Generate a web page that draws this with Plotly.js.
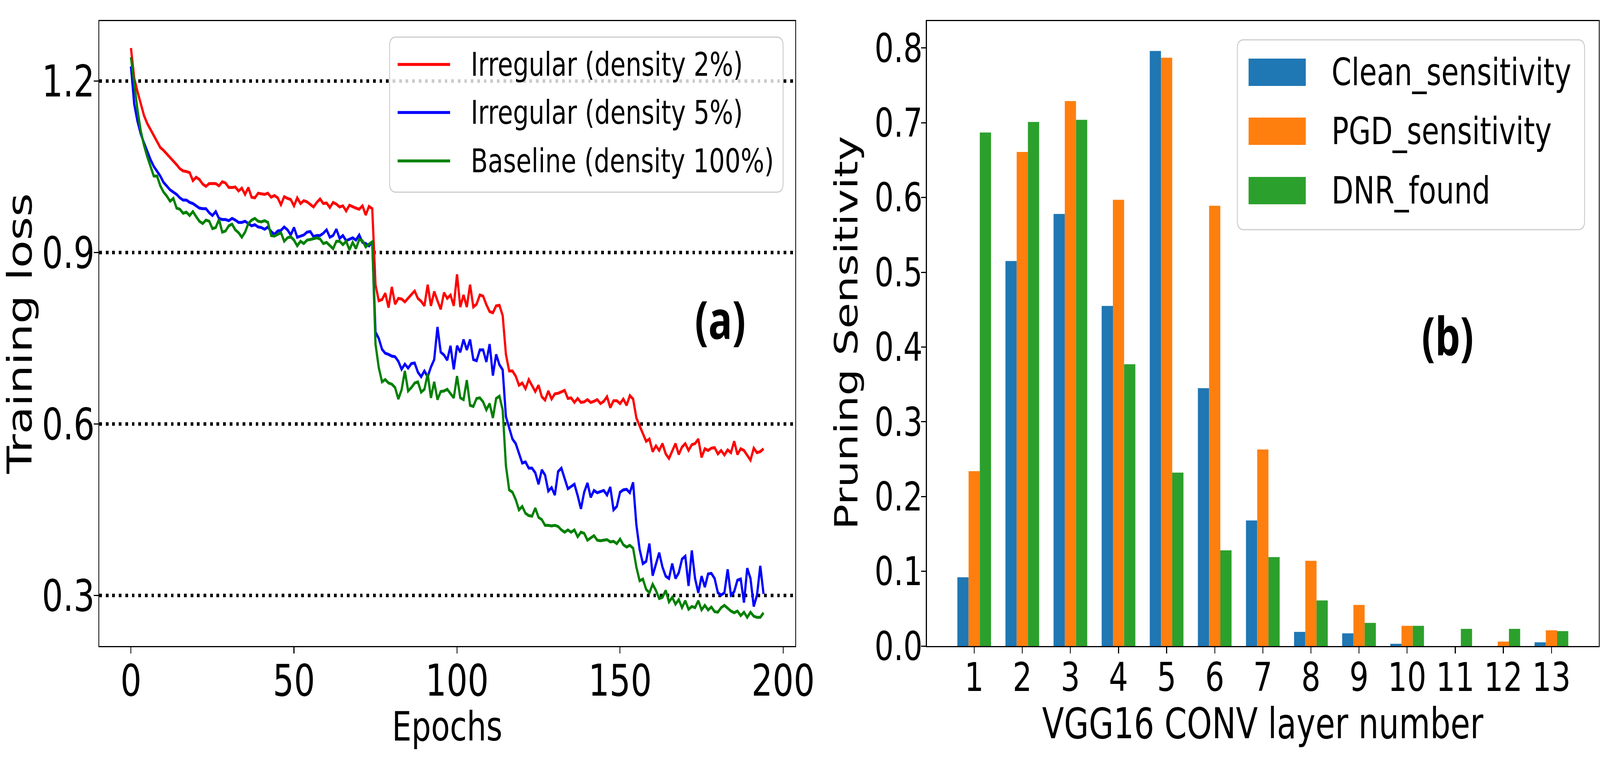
<!DOCTYPE html>
<html><head><meta charset="utf-8">
<script src="https://cdn.plot.ly/plotly-3.0.1.min.js"></script>
<style>html,body{margin:0;padding:0;background:#fff;overflow:hidden}
#frame{width:5400px;height:1956px;transform-origin:0 0}</style>
</head><body><div id="frame"><div id="chart" style="width:5400px;height:1956px"></div></div>
<script>
// ---------- data ----------
const lossIrregular2 = [1.258,1.205,1.182,1.160,1.140,1.126,1.115,1.104,1.093,1.084,
 1.079,1.073,1.066,1.060,1.054,1.047,1.043,1.042,1.040,1.026,
 1.032,1.028,1.020,1.016,1.021,1.021,1.021,1.017,1.024,1.022,
 1.014,1.014,1.015,1.008,1.013,1.002,1.014,0.997,0.996,1.004,
 1.003,1.002,1.004,0.997,1.000,0.996,0.984,0.998,0.995,0.993,
 0.982,0.996,0.986,0.991,0.989,0.984,0.980,0.988,0.994,0.986,
 0.987,0.979,0.988,0.985,0.980,0.982,0.973,0.983,0.980,0.978,
 0.976,0.982,0.966,0.981,0.977,0.844,0.816,0.818,0.829,0.804,
 0.840,0.810,0.820,0.819,0.814,0.820,0.826,0.833,0.820,0.815,
 0.807,0.844,0.807,0.832,0.816,0.801,0.830,0.820,0.826,0.807,
 0.862,0.805,0.826,0.805,0.844,0.805,0.810,0.826,0.824,0.809,
 0.797,0.795,0.807,0.808,0.790,0.722,0.693,0.693,0.684,0.668,
 0.672,0.662,0.678,0.668,0.657,0.668,0.648,0.642,0.658,0.644,
 0.653,0.654,0.657,0.659,0.645,0.646,0.638,0.645,0.638,0.639,
 0.643,0.638,0.640,0.643,0.636,0.640,0.648,0.629,0.641,0.641,
 0.636,0.644,0.633,0.650,0.644,0.611,0.597,0.584,0.570,0.574,
 0.552,0.562,0.554,0.566,0.548,0.540,0.554,0.566,0.547,0.560,
 0.566,0.554,0.564,0.566,0.574,0.542,0.557,0.554,0.558,0.559,
 0.548,0.554,0.546,0.555,0.550,0.570,0.547,0.557,0.554,0.545,
 0.537,0.558,0.550,0.552,0.557];
const lossIrregular5 = [1.226,1.160,1.130,1.108,1.092,1.077,1.063,1.051,1.042,1.034,
 1.023,1.016,1.010,1.006,1.002,0.996,0.992,0.992,0.988,0.986,
 0.982,0.978,0.977,0.977,0.970,0.965,0.972,0.960,0.958,0.958,
 0.956,0.960,0.957,0.953,0.953,0.955,0.951,0.947,0.949,0.945,
 0.944,0.941,0.945,0.937,0.932,0.938,0.939,0.945,0.940,0.931,
 0.944,0.927,0.929,0.931,0.936,0.937,0.928,0.930,0.930,0.934,
 0.940,0.927,0.930,0.941,0.925,0.930,0.921,0.924,0.926,0.922,
 0.931,0.918,0.916,0.912,0.919,0.761,0.750,0.731,0.724,0.722,
 0.719,0.718,0.710,0.696,0.705,0.698,0.706,0.707,0.691,0.683,
 0.693,0.683,0.700,0.713,0.770,0.726,0.721,0.712,0.737,0.696,
 0.737,0.726,0.748,0.730,0.748,0.713,0.711,0.730,0.730,0.709,
 0.740,0.685,0.722,0.704,0.695,0.613,0.593,0.574,0.566,0.550,
 0.532,0.534,0.523,0.523,0.515,0.495,0.520,0.511,0.483,0.489,
 0.476,0.517,0.523,0.505,0.487,0.491,0.495,0.475,0.452,0.481,
 0.497,0.472,0.484,0.480,0.482,0.484,0.476,0.490,0.450,0.456,
 0.481,0.485,0.486,0.480,0.498,0.424,0.381,0.356,0.360,0.391,
 0.335,0.354,0.375,0.350,0.334,0.330,0.356,0.330,0.340,0.364,
 0.369,0.317,0.379,0.330,0.305,0.334,0.315,0.338,0.339,0.330,
 0.305,0.301,0.305,0.346,0.301,0.307,0.327,0.329,0.288,0.348,
 0.330,0.281,0.301,0.352,0.303];
const lossBaseline = [1.242,1.195,1.150,1.113,1.088,1.068,1.050,1.034,1.034,1.017,
 1.006,0.999,0.990,0.995,0.978,0.976,0.969,0.971,0.965,0.972,
 0.963,0.955,0.951,0.957,0.955,0.942,0.944,0.958,0.936,0.938,
 0.947,0.950,0.940,0.935,0.927,0.936,0.951,0.957,0.960,0.955,
 0.954,0.956,0.953,0.930,0.929,0.932,0.935,0.920,0.926,0.928,
 0.922,0.912,0.920,0.916,0.922,0.923,0.925,0.926,0.924,0.916,
 0.918,0.912,0.907,0.920,0.920,0.914,0.920,0.905,0.918,0.907,
 0.923,0.921,0.910,0.915,0.919,0.740,0.699,0.674,0.678,0.672,
 0.670,0.664,0.644,0.660,0.693,0.658,0.664,0.672,0.674,0.656,
 0.661,0.688,0.646,0.674,0.643,0.657,0.658,0.661,0.654,0.646,
 0.684,0.646,0.643,0.677,0.633,0.631,0.645,0.646,0.639,0.625,
 0.636,0.611,0.645,0.649,0.625,0.527,0.485,0.481,0.468,0.450,
 0.456,0.444,0.440,0.439,0.453,0.437,0.433,0.423,0.423,0.422,
 0.423,0.421,0.415,0.411,0.415,0.411,0.415,0.403,0.411,0.409,
 0.397,0.401,0.405,0.397,0.396,0.397,0.398,0.394,0.395,0.391,
 0.399,0.389,0.385,0.388,0.383,0.350,0.326,0.329,0.311,0.305,
 0.320,0.309,0.295,0.297,0.309,0.289,0.297,0.285,0.293,0.279,
 0.291,0.276,0.281,0.279,0.291,0.275,0.283,0.275,0.280,0.272,
 0.271,0.279,0.283,0.278,0.273,0.270,0.273,0.265,0.271,0.262,
 0.271,0.264,0.262,0.262,0.270];
const lineNames = ['Irregular (density 2%)', 'Irregular (density 5%)', 'Baseline (density 100%)'];
const lineColors = ['#ff0000', '#0000ff', '#008000'];
const epochTicks = [0, 50, 100, 150, 200];
const lossTicks = [0.3, 0.6, 0.9, 1.2];
const lossTickText = ['0.3', '0.6', '0.9', '1.2'];

const layers = [1, 2, 3, 4, 5, 6, 7, 8, 9, 10, 11, 12, 13];
const cleanSensitivity = [0.092, 0.515, 0.578, 0.455, 0.796, 0.345, 0.168, 0.019, 0.017, 0.003, 0.0, 0.0, 0.005];
const pgdSensitivity   = [0.234, 0.661, 0.729, 0.597, 0.787, 0.589, 0.263, 0.114, 0.055, 0.027, 0.0, 0.006, 0.021];
const dnrFound         = [0.687, 0.701, 0.704, 0.377, 0.232, 0.128, 0.119, 0.061, 0.031, 0.027, 0.023, 0.023, 0.020];
const barNames = ['Clean_sensitivity', 'PGD_sensitivity', 'DNR_found'];
const barColors = ['#1f77b4', '#ff7f0e', '#2ca02c'];
const sensTicks = [0, 0.1, 0.2, 0.3, 0.4, 0.5, 0.6, 0.7, 0.8];
const sensTickText = ['0.0', '0.1', '0.2', '0.3', '0.4', '0.5', '0.6', '0.7', '0.8'];

const axisTitles = {x: 'Epochs', y: 'Training loss', x2: 'VGG16 CONV layer number', y2: 'Pruning Sensitivity'};

// ---------- figure geometry (reference is 5400 x 1956) ----------
const W = 5400, H = 1956;
// the browser may cap the window width; squeeze the whole figure to the window so every part stays in view
const sx = Math.min(1, window.innerWidth / W), sy = Math.min(1, window.innerHeight / H);
document.getElementById('frame').style.transform = 'scale(' + sx + ',' + sy + ')';

const FONT = 'DejaVu Sans, Verdana, sans-serif';
const LW = 7.5;
const px = x => x / W;
const py = y => 1 - y / H;
function rrect(x0, y0, x1, y1, r) {
  const P = (x, y) => px(x) + ',' + py(y);
  return 'M' + P(x0 + r, y0) + ' L' + P(x1 - r, y0) + ' Q' + P(x1, y0) + ' ' + P(x1, y0 + r) +
    ' L' + P(x1, y1 - r) + ' Q' + P(x1, y1) + ' ' + P(x1 - r, y1) +
    ' L' + P(x0 + r, y1) + ' Q' + P(x0, y1) + ' ' + P(x0, y1 - r) +
    ' L' + P(x0, y0 + r) + ' Q' + P(x0, y0) + ' ' + P(x0 + r, y0) + ' Z';
}

const epochs = lossIrregular2.map((_, i) => i);
const lossSeries = [lossIrregular2, lossIrregular5, lossBaseline];
const barSeries = [cleanSensitivity, pgdSensitivity, dnrFound];

const traces = [];
lossSeries.forEach((ys, i) => traces.push({
  type: 'scatter', mode: 'lines', x: epochs, y: ys, name: lineNames[i],
  line: {color: lineColors[i], width: LW}, xaxis: 'x', yaxis: 'y', showlegend: false
}));
barSeries.forEach((ys, i) => traces.push({
  type: 'bar', x: layers, y: ys, name: barNames[i],
  marker: {color: barColors[i], line: {width: 0}}, xaxis: 'x2', yaxis: 'y2', showlegend: false
}));

const shapes = [];
const annotations = [];
// legend of panel (a)
shapes.push({type: 'path', xref: 'paper', yref: 'paper', layer: 'above',
  path: rrect(1315, 95, 2643, 492, 22), fillcolor: 'rgba(255,255,255,0.8)',
  line: {color: '#cccccc', width: 3}});
const legARows = [165, 288, 412];
lineNames.forEach((n, i) => {
  shapes.push({type: 'line', xref: 'paper', yref: 'paper', layer: 'above',
    x0: px(1342), x1: px(1519), y0: py(legARows[i]), y1: py(legARows[i]),
    line: {color: lineColors[i], width: LW}});
  annotations.push({xref: 'paper', yref: 'paper', x: px(1587), y: py(legARows[i]),
    xanchor: 'left', yanchor: 'middle', showarrow: false, text: n,
    font: {family: FONT, size: 84, color: '#000'}});
});
// legend of panel (b)
shapes.push({type: 'path', xref: 'paper', yref: 'paper', layer: 'above',
  path: rrect(4176, 102, 5348, 588, 22), fillcolor: 'rgba(255,255,255,0.8)',
  line: {color: '#cccccc', width: 3}});
const legBRows = [185, 336, 488];
barNames.forEach((n, i) => {
  shapes.push({type: 'rect', xref: 'paper', yref: 'paper', layer: 'above',
    x0: px(4214), x1: px(4407), y0: py(legBRows[i] - 35), y1: py(legBRows[i] + 35),
    fillcolor: barColors[i], line: {width: 0}});
  annotations.push({xref: 'paper', yref: 'paper', x: px(4492), y: py(legBRows[i]),
    xanchor: 'left', yanchor: 'middle', showarrow: false, text: n,
    font: {family: FONT, size: 96, color: '#000'}});
});
// panel tags
annotations.push({xref: 'paper', yref: 'paper', x: px(2431), y: py(816), xanchor: 'center', yanchor: 'middle',
  showarrow: false, text: '<b>(a)</b>', font: {family: 'Open Sans, DejaVu Sans, sans-serif', size: 134, color: '#000'}});
annotations.push({xref: 'paper', yref: 'paper', x: px(4886), y: py(857), xanchor: 'center', yanchor: 'middle',
  showarrow: false, text: '<b>(b)</b>', font: {family: 'Open Sans, DejaVu Sans, sans-serif', size: 134, color: '#000'}});
// axis titles
annotations.push({xref: 'paper', yref: 'paper', x: px(1509), y: py(1860), xanchor: 'center', yanchor: 'middle',
  showarrow: false, text: axisTitles.x, font: {family: FONT, size: 104, color: '#000'}});
annotations.push({xref: 'paper', yref: 'paper', x: px(66), y: py(854), xanchor: 'center', yanchor: 'middle',
  showarrow: false, textangle: -90, text: axisTitles.y, font: {family: FONT, size: 116, color: '#000'}});
annotations.push({xref: 'paper', yref: 'paper', x: px(4262), y: py(1852), xanchor: 'center', yanchor: 'middle',
  showarrow: false, text: axisTitles.x2, font: {family: FONT, size: 108, color: '#000'}});
annotations.push({xref: 'paper', yref: 'paper', x: px(2857), y: py(852), xanchor: 'center', yanchor: 'middle',
  showarrow: false, textangle: -90, text: axisTitles.y2, font: {family: FONT, size: 108, color: '#000'}});

const axBase = {
  showline: true, mirror: true, linecolor: '#000', linewidth: 3,
  ticks: 'outside', ticklen: 16, tickwidth: 3, tickcolor: '#000',
  zeroline: false, showgrid: false, automargin: false,
  tickfont: {family: FONT, color: '#000'}
};
const yDom = [1 - 1654 / H, 1 - 54 / H];

const layout = {
  width: W, height: H, margin: {l: 0, r: 0, t: 0, b: 0},
  paper_bgcolor: '#fff', plot_bgcolor: '#fff', showlegend: false,
  font: {family: FONT, color: '#000'},
  barmode: 'group', bargap: 0.3, bargroupgap: 0,
  xaxis: Object.assign({}, axBase, {
    domain: [335 / W, 2684 / W], range: [-9.72, 203.73],
    tickmode: 'array', tickvals: epochTicks, ticktext: epochTicks.map(String),
    tickfont: {family: FONT, color: '#000', size: 112}, ticklabelstandoff: -26
  }),
  yaxis: Object.assign({}, axBase, {
    domain: yDom, range: [0.2118, 1.3052],
    tickmode: 'array', tickvals: lossTicks, ticktext: lossTickText,
    tickfont: {family: FONT, color: '#000', size: 112}, ticklabelstandoff: -26,
    showgrid: true, gridcolor: '#000', gridwidth: 9, griddash: '9px,13px'
  }),
  xaxis2: Object.assign({}, axBase, {
    anchor: 'y2', domain: [3128 / W, 5396 / W], range: [0.015, 13.985],
    tickmode: 'array', tickvals: layers, ticktext: layers.map(String),
    tickfont: {family: FONT, color: '#000', size: 102}, ticklabelstandoff: -26
  }),
  yaxis2: Object.assign({}, axBase, {
    anchor: 'x2', domain: yDom, range: [0, 0.836],
    tickmode: 'array', tickvals: sensTicks, ticktext: sensTickText,
    tickfont: {family: FONT, color: '#000', size: 102}, ticklabelstandoff: -25
  }),
  shapes: shapes,
  annotations: annotations
};

Plotly.newPlot('chart', traces, layout, {displayModeBar: false, staticPlot: true});
</script>
</body></html>
